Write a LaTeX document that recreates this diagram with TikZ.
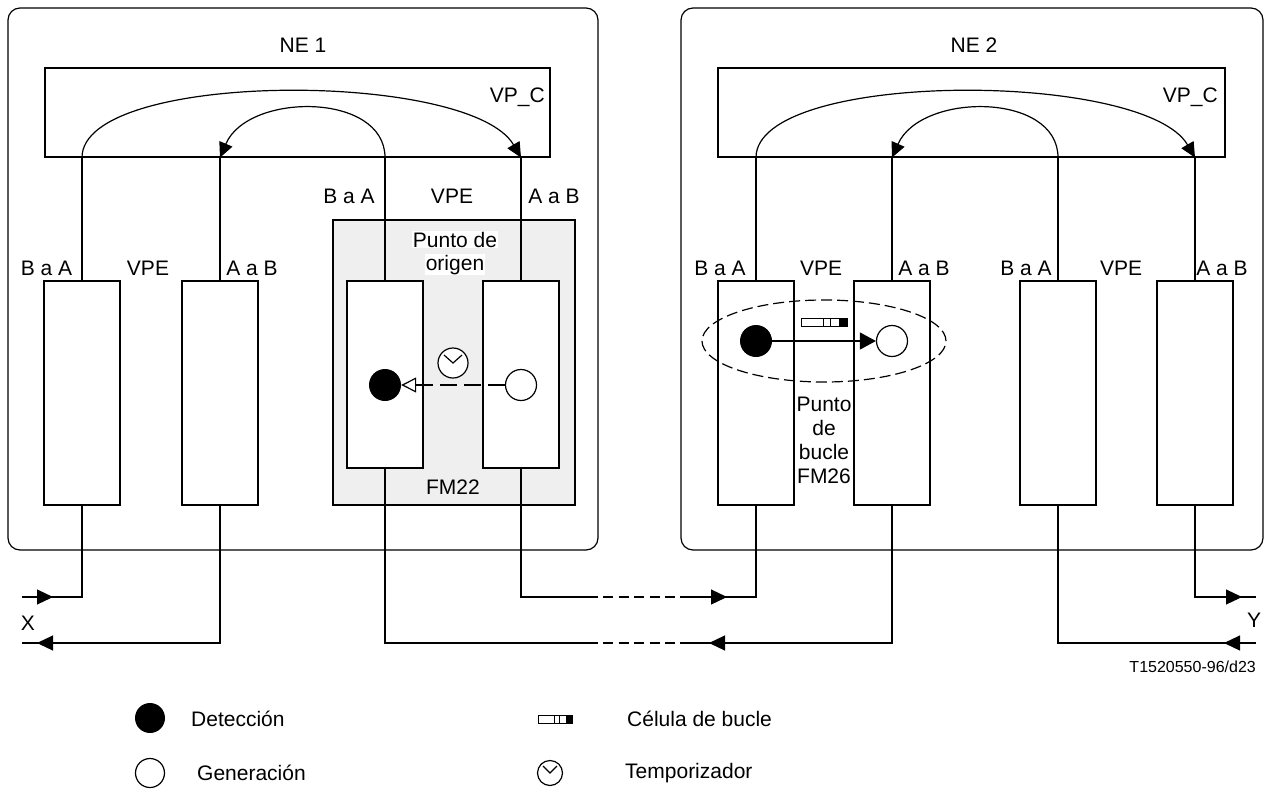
\documentclass[tikz,border=0pt]{standalone}
\usepackage{fontspec}
\setmainfont{Liberation Sans}
\usetikzlibrary{arrows.meta}
\definecolor{greyfill}{RGB}{239,239,239}
\begin{document}
\begin{tikzpicture}[x=1pt,y=-1pt,
  ln/.style={line width=1.2pt},
  frame/.style={draw, line width=1.2pt, rounded corners=12pt},
  vpcbox/.style={draw, line width=1.2pt, fill=white, inner sep=0, minimum height=89pt},
  box/.style={draw, line width=1.2pt, fill=white, inner sep=0, minimum width=76pt, minimum height=224pt},
  ibox/.style={draw, line width=1.2pt, fill=white, inner sep=0, minimum width=76pt, minimum height=187pt},
  lbl/.style={font=\fontsize{21}{24}\selectfont, inner sep=0},
  tip/.style={-{Triangle[length=16pt,width=15pt]}},
  ctip/.style={-{Triangle[length=15pt,width=14pt]}},
  dot/.style={circle, fill=black, minimum size=32pt, inner sep=0},
  ring/.style={circle, draw, line width=1.2pt, fill=white, minimum size=31pt, inner sep=0},
  timer/.style={circle, draw, line width=1.2pt, fill=white, minimum size=30pt, inner sep=0},
  wiredash/.style={line width=1.2pt, dash pattern=on 10pt off 5.5pt},
]
\useasboundingbox (0,0) rectangle (1271,798);

% ---------- network elements ----------
\draw[frame] (8,8) rectangle (598,550);
\draw[frame] (681,8) rectangle (1263,550);
\node[lbl] (ne1) at (303,45) {NE 1};
\node[lbl] (ne2) at (974,45) {NE 2};

% VP_C boxes
\node[vpcbox, minimum width=505pt] (vpc1) at (297.5,112.5) {};
\node[vpcbox, minimum width=507pt] (vpc2) at (971.5,112.5) {};
\node[lbl, anchor=east] (vpcl1) at (545,97) {VP\_C};
\node[lbl, anchor=east] (vpcl2) at (1218,97) {VP\_C};

% grey FM22 area
\node[draw, line width=1.2pt, fill=greyfill, inner sep=0, minimum width=242pt, minimum height=285pt] (fm22) at (454,362.5) {};

% VPE boxes NE1
\node[box] (b1) at (82,393) {};
\node[box] (b2) at (220,393) {};
\node[ibox] (f1) at (385,374.5) {};
\node[ibox] (f2) at (521,374.5) {};
% VPE boxes NE2
\node[box] (g1) at (756,393) {};
\node[box] (g2) at (892,393) {};
\node[box] (g3) at (1058,393) {};
\node[box] (g4) at (1195,393) {};

% vertical links from VP_C to boxes
\foreach \b in {b1,b2,f1,f2,g1,g2,g3,g4}{
  \draw[ln] (\b.north) -- (\b.north |- vpc1.south);
}

% arcs inside VP_C
\draw[ln,ctip] (b1.north |- vpc1.south) .. controls (82,70) and (470,70) .. (f2.north |- vpc1.south);
\draw[ln,ctip] (f1.north |- vpc1.south) .. controls (385,92) and (248,92) .. (b2.north |- vpc1.south);
\draw[ln,ctip] (g1.north |- vpc2.south) .. controls (756,70) and (1144,70) .. (g4.north |- vpc2.south);
\draw[ln,ctip] (g3.north |- vpc2.south) .. controls (1058,92) and (921,92) .. (g2.north |- vpc2.south);

% labels above boxes
\node[lbl] (l1) at (46.5,268) {B a A};
\node[lbl] (l2) at (148,268) {VPE};
\node[lbl] (l3) at (252,268) {A a B};
\node[lbl] (l4) at (349,196) {B a A};
\node[lbl] (l5) at (452,196) {VPE};
\node[lbl] (l6) at (554,196) {A a B};
\node[lbl] (l7) at (720,268) {B a A};
\node[lbl] (l8) at (821,268) {VPE};
\node[lbl] (l9) at (924,268) {A a B};
\node[lbl] (l10) at (1026,268) {B a A};
\node[lbl] (l11) at (1121,268) {VPE};
\node[lbl] (l12) at (1222,268) {A a B};

% FM22 contents
\node[lbl, fill=white, inner sep=1pt, anchor=base] (po1) at (455,247) {Punto de};
\node[lbl, fill=white, inner sep=1pt, anchor=base] (po2) at (455,270) {origen};
\node[lbl] (fm22l) at (453,487) {FM22};
\node[dot] (d1) at (385,385) {};
\node[ring] (r1) at (521,385) {};
\node[timer] (t1) at (453,363) {};
\draw[ln] ([shift={(-9,-8)}]t1.center) -- (t1.center) -- ([shift={(9,-8)}]t1.center);
\draw[line width=1.2pt, dash pattern=on 17pt off 7pt, -{Triangle[open, fill=white, length=15pt, width=15pt]}] (r1.west) -- (d1.east);

% FM26 loop
\draw[line width=1.2pt, dash pattern=on 11pt off 5pt] (824,341) ellipse [x radius=122pt, y radius=41pt];
\node[dot] (d2) at (756,341) {};
\node[ring] (r2) at (892,341) {};
\draw[ln, -{Triangle[length=16pt,width=17pt]}] (d2.east) -- (r2.west);
\draw[line width=1pt, fill=white] (801,318) rectangle (847,326);
\fill (839,318) rectangle (847,326);
\draw[line width=1pt] (823,318) -- (823,326) (830,318) -- (830,326);
\node[lbl, align=center, anchor=north] (pb) at (824,397) {Punto\\de\\bucle\\FM26};

% ---------- external wiring ----------
\coordinate (xin) at (22,597);
\coordinate (xout) at (22,643);
\coordinate (yout) at (1256,597);
\coordinate (yin) at (1256,643);
\node[lbl] (xl) at (28,623) {X};
\node[lbl] (yl) at (1254,620) {Y};

\draw[ln] (b1.south) |- (xin);
\draw[ln,tip] (xin) -- (53,597);
\draw[ln] (b2.south) |- (xout);
\draw[ln,tip] (53,643) -- (37,643);

\draw[ln] (f2.south) |- (598,597);
\draw[wiredash] (603,597) -- (676,597);
\draw[ln] (680,597) -| (g1.south);
\draw[ln,tip] (711,597) -- (727,597);

\draw[ln] (f1.south) |- (598,643);
\draw[wiredash] (603,643) -- (676,643);
\draw[ln] (680,643) -| (g2.south);
\draw[ln,tip] (726,643) -- (709,643);

\draw[ln] (g3.south) |- (yin);
\draw[ln,tip] (1241,643) -- (1224,643);
\draw[ln] (g4.south) |- (yout);
\draw[ln,tip] (1226,597) -- (1242,597);

\node[font=\fontsize{16}{19}\selectfont, inner sep=0, anchor=east] (ref) at (1256,667) {T1520550-96/d23};

% ---------- legend ----------
\node[dot, minimum size=30pt] (ld) at (150,718) {};
\node[lbl, anchor=west] (ldt) at (191,719) {Detección};
\node[ring, minimum size=29pt] (lg) at (150,773) {};
\node[lbl, anchor=west] (lgt) at (197,773) {Generación};
\draw[line width=1pt, fill=white] (538,715) rectangle (572,723);
\fill (566,715) rectangle (572,723);
\draw[line width=1pt] (554,715) -- (554,723) (559,715) -- (559,723);
\node[lbl, anchor=west] (lct) at (627,719) {Célula de bucle};
\node[timer, minimum size=25pt] (lt) at (550,773) {};
\draw[ln] ([shift={(-7,-7)}]lt.center) -- (lt.center) -- ([shift={(7,-7)}]lt.center);
\node[lbl, anchor=west] (ltt) at (625,773) {Temporizador};
\end{tikzpicture}
\end{document}
